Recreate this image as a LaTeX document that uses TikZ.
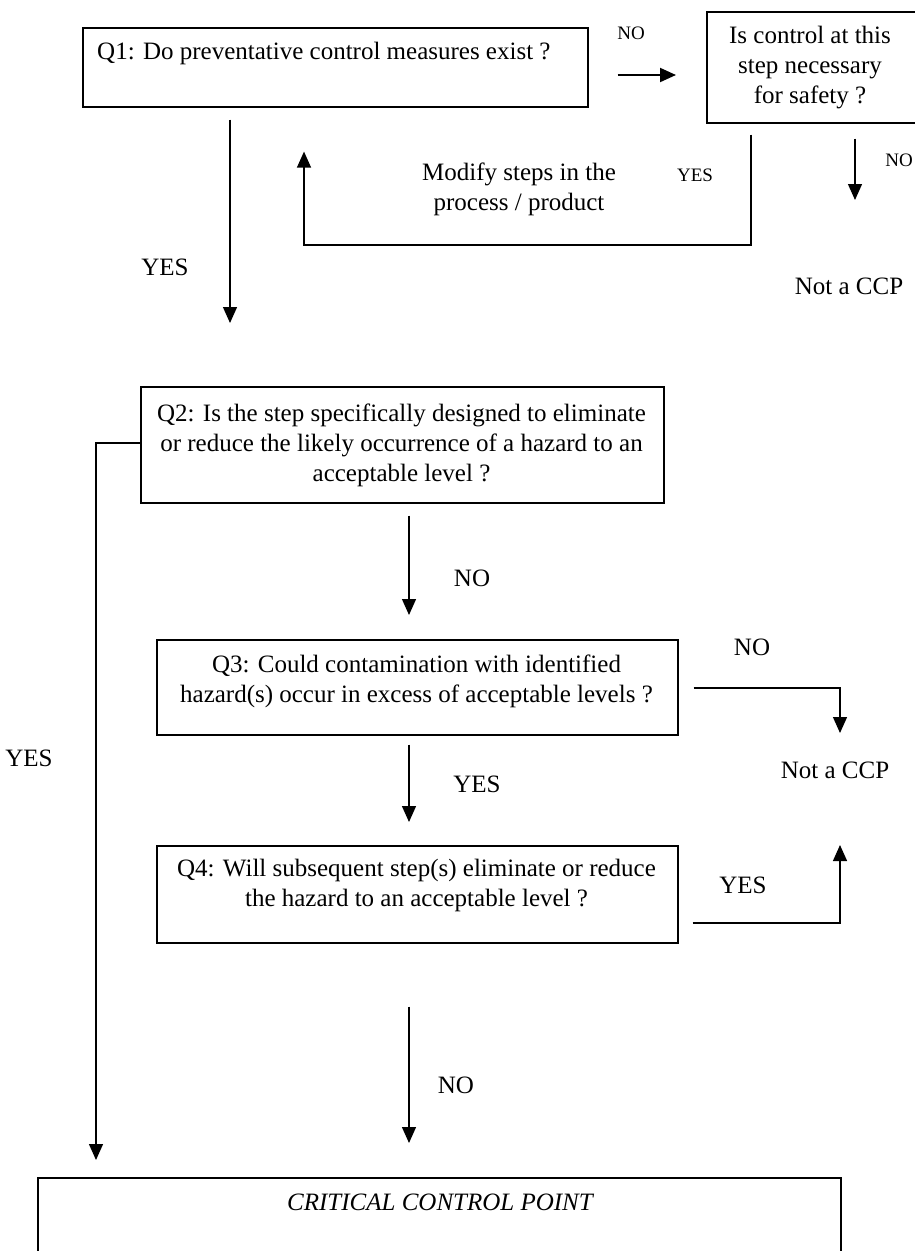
\documentclass[tikz,border=0pt]{standalone}
\usepackage{fontspec}
\setmainfont{Liberation Serif}
\usetikzlibrary{arrows.meta}
\begin{document}
\begin{tikzpicture}[x=1pt,y=-1pt,
  every node/.style={inner sep=0pt, font=\fontsize{25}{30}\selectfont},
  box/.style={draw, line width=1.6pt, anchor=north west},
  txt/.style={align=center},
  small/.style={font=\fontsize{19}{23}\selectfont},
  conn/.style={line width=1.3pt},
  arr/.style={conn, -{Triangle[length=16pt,width=14pt]}},
]
\useasboundingbox (0,0) rectangle (914,1251);

% boxes
\node[box, minimum width=505pt, minimum height=79pt] (q1) at (82,27) {};
\node[anchor=west] (q1t) at (97,53) {Q1: Do preventative control measures exist ?};

\node[box, minimum width=240pt, minimum height=111pt] (rb) at (706,11) {};
\node[txt] (rbt) at (810,68) {Is control at this\\step necessary\\for safety ?};

\node[box, minimum width=523pt, minimum height=116pt] (q2) at (140,386) {};
\node[txt] (q2t) at (401.5,445) {Q2: Is the step specifically designed to eliminate\\or reduce the likely occurrence of a hazard to an\\acceptable level ?};

\node[box, minimum width=521pt, minimum height=95pt] (q3) at (156,639) {};
\node[txt] (q3t) at (416.5,681) {Q3: Could contamination with identified\\hazard(s) occur in excess of acceptable levels ?};

\node[box, minimum width=521pt, minimum height=97pt] (q4) at (156,845) {};
\node[txt] (q4t) at (416.5,885) {Q4: Will subsequent step(s) eliminate or reduce\\the hazard to an acceptable level ?};

\node[box, minimum width=803pt, minimum height=100pt] (ccp) at (37,1177) {};
\node (ccpt) at (440,1202) {\itshape CRITICAL CONTROL POINT};

% labels
\node[small] (no1) at (631,33) {NO};
\node (yes1) at (165,267) {YES};
\node[txt] (mod) at (519,189) {Modify steps in the\\process / product};
\node[small] (yes2) at (695,175) {YES};
\node[small] (no2) at (899,160) {NO};
\node (ncc1) at (849,286) {Not a CCP};
\node (no3) at (472,578) {NO};
\node (no4) at (752,647) {NO};
\node (yes3) at (29,758) {YES};
\node (ncc2) at (835,770) {Not a CCP};
\node (yes4) at (477,784) {YES};
\node (yes5) at (743,885) {YES};
\node (no5) at (456,1085) {NO};

% helper coordinates
\coordinate (bend1) at (304,245);
\coordinate (t1) at (855,200);
\coordinate (t2) at (840,733);
\coordinate (t3) at (840,845);

% connectors
\draw[arr, line width=2pt, shorten <=29pt, shorten >=30pt] (q1.east |- 0,75) -- (rb.west |- 0,75);
\draw[arr, shorten <=12pt, shorten >=63pt] (q1.south -| 230,0) -- (q2.north -| 230,0);
\draw[arr, shorten <=11pt, shorten >=44pt] (rb.south -| 751,0) |- (bend1) -- (q1.south -| 304,0);
\draw[arr, shorten <=15pt] (rb.south -| 855,0) -- (t1);
\draw[arr, shorten >=17pt] (q2.west |- 0,443) -| (ccp.north -| 96,0);
\draw[arr, shorten <=12pt, shorten >=24pt] (q2.south -| 409,0) -- (q3.north -| 409,0);
\draw[arr, shorten <=15pt] (q3.east |- 0,688) -| (t2);
\draw[arr, shorten <=9pt, shorten >=23pt] (q3.south -| 409,0) -- (q4.north -| 409,0);
\draw[arr, shorten <=14pt] (q4.east |- 0,923) -| (t3);
\draw[arr, shorten <=63pt, shorten >=34pt] (q4.south -| 409,0) -- (ccp.north -| 409,0);
\end{tikzpicture}
\end{document}
